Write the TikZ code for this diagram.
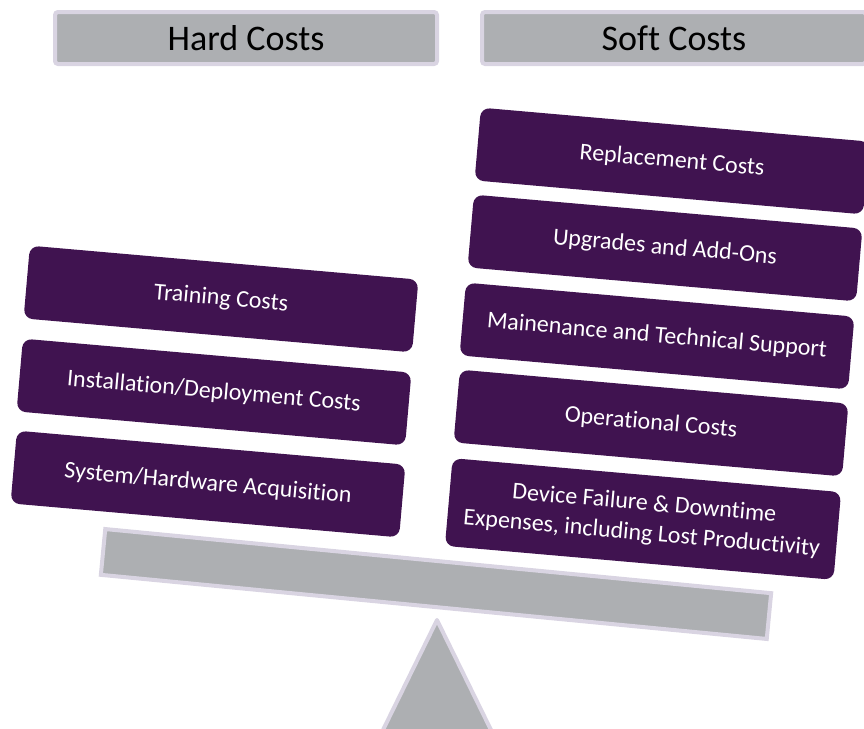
\documentclass[tikz,border=0pt]{standalone}
\usepackage{fontspec}
\setmainfont{Carlito}[Ligatures=NoCommon]
\usepackage{xcolor}
\usetikzlibrary{shapes, calc}
\definecolor{costpurple}{RGB}{64, 19, 80}
\definecolor{scalegrey}{RGB}{173, 175, 178}
\definecolor{scalelilac}{RGB}{217, 212, 226}

\tikzset{
    header/.style={draw=scalelilac, line width=4pt, fill=scalegrey, rounded corners=3pt,
        minimum width=382pt, minimum height=52pt, inner sep=0pt,
        font=\fontsize{36}{40}\selectfont},
    costbox/.style={fill=costpurple, text=white, rounded corners=9pt, rotate=-5,
        minimum width=390pt, minimum height=73pt, inner sep=0pt, align=center,
        font=\fontsize{24}{30}\selectfont},
}

\begin{document}
\begin{tikzpicture}[x=1pt, y=1pt]
        \useasboundingbox (0,0) rectangle (864,-728);

        \node[header] (HC) at (246,-38) {Hard Costs};
        \node[header, minimum width=384pt] (SC) at (674,-38) {Soft Costs};

        \draw[draw=scalelilac, line width=4pt, fill=scalegrey, line join=round]
            (437,-620) -- (382,-732) -- (492,-732) -- cycle;
        \node[draw=scalelilac, line width=4pt, fill=scalegrey, rotate=-5.5,
            minimum width=669pt, minimum height=46pt] (beam) at (436,-584) {};

        \begin{scope}
            \node[costbox] (H1) at (221,-299) {Training Costs};
            \node[costbox] (H2) at (214,-392) {Installation/Deployment Costs};
            \node[costbox] (H3) at (208,-484) {System/Hardware Acquisition};
        \end{scope}

        \begin{scope}
            \node[costbox] (S1) at (672,-161) {Replacement Costs};
            \node[costbox] (S2) at (665,-248) {Upgrades and Add-Ons};
            \node[costbox] (S3) at (657,-336) {Mainenance and Technical Support};
            \node[costbox] (S4) at (651,-423) {Operational Costs};
            \node[costbox, minimum height=88pt] (S5) at (643,-519)
                {Device Failure \& Downtime\\Expenses, including Lost Productivity};
        \end{scope}
    \end{tikzpicture}
\end{document}
